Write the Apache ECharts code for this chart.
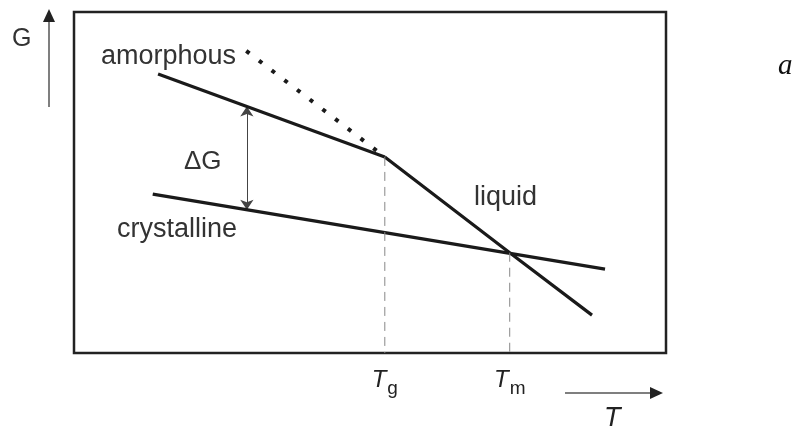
<!DOCTYPE html>
<html>
<head>
<meta charset="utf-8">
<script src="https://cdn.jsdelivr.net/npm/echarts@6/dist/echarts.min.js"></script>
<style>
html,body{margin:0;padding:0;background:#fff;}
#chart{width:803px;height:428px;}
</style>
</head>
<body>
<div id="chart"></div>
<script>
// Schematic G(T) diagram, axes in arbitrary units 0..100
const tRange = [0, 100];
const gRange = [0, 100];

const Tg = 52.5;
const Tm = 73.6;

const amorphousT = [14.2, 52.5];
const amorphousG = [81.8, 57.5];

const supercooledT = [29.1, 52.5];
const supercooledG = [88.6, 57.5];

const liquidT = [52.5, 73.6, 87.5];
const liquidG = [57.5, 29.4, 11.1];

const crystallineT = [13.3, 89.7];
const crystallineG = [46.6, 24.6];

const deltaGT = 29.2;
const deltaGEnds = [72.3, 42.0];

const tickValues = [Tg, Tm];
const tickNames = ['g', 'm'];

const zip = (xs, ys) => xs.map((x, i) => [x, ys[i]]);

const lineColor = '#1a1a1a';
const sans = 'Liberation Sans, Arial, sans-serif';

const chart = echarts.init(document.getElementById('chart'));
chart.setOption({
  animation: false,
  backgroundColor: '#ffffff',
  grid: {
    show: true,
    left: 74, top: 12, width: 592, height: 341,
    borderColor: '#222',
    borderWidth: 2.5,
    backgroundColor: 'transparent'
  },
  xAxis: {
    type: 'value', min: tRange[0], max: tRange[1],
    axisLine: {show: false}, axisTick: {show: false}, splitLine: {show: false},
    axisLabel: {
      show: true,
      customValues: tickValues,
      margin: 10,
      formatter: function (v) {
        const i = tickValues.indexOf(v);
        return '{t|T}{s|' + (i >= 0 ? tickNames[i] : '') + '}';
      },
      rich: {
        t: {fontFamily: sans, fontStyle: 'italic', fontSize: 24, color: '#222'},
        s: {fontFamily: sans, fontSize: 19, color: '#222', padding: [16, 0, 0, 1]}
      }
    }
  },
  yAxis: {
    type: 'value', min: gRange[0], max: gRange[1], show: false
  },
  series: [
    {
      name: 'amorphous', type: 'line', data: zip(amorphousT, amorphousG),
      symbol: 'none', lineStyle: {color: lineColor, width: 3.2}
    },
    {
      name: 'supercooled', type: 'line', data: zip(supercooledT, supercooledG),
      symbol: 'none', lineStyle: {color: lineColor, width: 4, type: [4, 12], cap: 'butt'}
    },
    {
      name: 'liquid', type: 'line', data: zip(liquidT, liquidG),
      symbol: 'none', lineStyle: {color: lineColor, width: 3.2}
    },
    {
      name: 'crystalline', type: 'line', data: zip(crystallineT, crystallineG),
      symbol: 'none', lineStyle: {color: lineColor, width: 3.2}
    },
    {
      name: 'Tg', type: 'line', data: [[Tg, amorphousG[1]], [Tg, gRange[0]]],
      symbol: 'none', lineStyle: {color: '#888', width: 1, type: [9, 6]}
    },
    {
      name: 'Tm', type: 'line', data: [[Tm, liquidG[1]], [Tm, gRange[0]]],
      symbol: 'none', lineStyle: {color: '#888', width: 1, type: [9, 6]}
    },
    {
      name: 'deltaG', type: 'lines', coordinateSystem: 'cartesian2d',
      symbol: ['arrow', 'arrow'], symbolSize: 10,
      lineStyle: {color: '#444', width: 1, opacity: 1},
      data: [{coords: [[deltaGT, deltaGEnds[0]], [deltaGT, deltaGEnds[1]]]}]
    }
  ],
  graphic: [
    // G axis arrow
    {type: 'line', shape: {x1: 49, y1: 107, x2: 49, y2: 20}, style: {stroke: '#555', lineWidth: 1.5}},
    {type: 'polygon', shape: {points: [[49, 9], [43, 22], [55, 22]]}, style: {fill: '#222'}},
    // T axis arrow
    {type: 'line', shape: {x1: 565, y1: 393, x2: 652, y2: 393}, style: {stroke: '#555', lineWidth: 1.5}},
    {type: 'polygon', shape: {points: [[663, 393], [650, 387], [650, 399]]}, style: {fill: '#222'}},
    // labels
    {type: 'text', x: 12, y: 39, style: {text: 'G', font: '25px ' + sans, fill: '#333', textVerticalAlign: 'middle'}},
    {type: 'text', x: 604, y: 418, style: {text: 'T', font: 'italic 27px ' + sans, fill: '#222', textVerticalAlign: 'middle'}},
    {type: 'text', x: 778, y: 66, style: {text: 'a', font: 'italic 29px "Liberation Serif", "Times New Roman", serif', fill: '#111', textVerticalAlign: 'middle'}},
    {type: 'text', x: 101, y: 57, style: {text: 'amorphous', font: '27px ' + sans, fill: '#333', textVerticalAlign: 'middle'}},
    {type: 'text', x: 117, y: 230, style: {text: 'crystalline', font: '27px ' + sans, fill: '#333', textVerticalAlign: 'middle'}},
    {type: 'text', x: 474, y: 198, style: {text: 'liquid', font: '27px ' + sans, fill: '#333', textVerticalAlign: 'middle'}},
    {type: 'text', x: 184, y: 162, style: {text: '\u0394G', font: '26px ' + sans, fill: '#333', textVerticalAlign: 'middle'}}
  ]
});
</script>
</body>
</html>
